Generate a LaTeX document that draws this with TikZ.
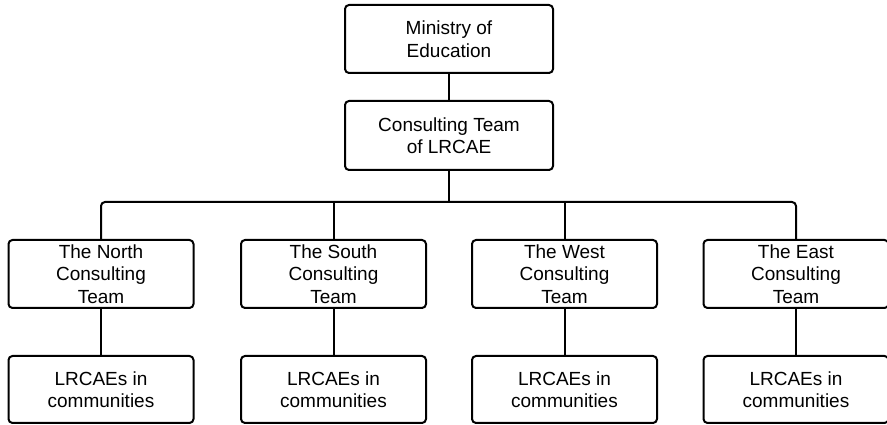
\documentclass[tikz,border=0pt]{standalone}
\usepackage{fontspec}
\setmainfont{Liberation Sans}
\begin{document}
\begin{tikzpicture}[x=1pt,y=1pt,
  orgbox/.style={draw, line width=2pt, rounded corners=4pt, minimum width=185pt, minimum height=68pt,
    inner sep=0pt, align=center, font=\fontsize{19}{22.5}\selectfont},
  topbox/.style={orgbox, minimum width=208pt},
  link/.style={line width=2pt, rounded corners=4pt}]
\useasboundingbox (0,0) rectangle (887,425);
\node[topbox] (moe) at (449,386) {Ministry of\\Education};
\node[topbox, minimum height=69pt] (ct) at (449,289.5) {Consulting Team\\of LRCAE};
\node[orgbox] (north) at (101,151) {The North\\Consulting\\Team};
\node[orgbox] (south) at (333.5,151) {The South\\Consulting\\Team};
\node[orgbox] (west) at (564.5,151) {The West\\Consulting\\Team};
\node[orgbox] (east) at (796,151) {The East\\Consulting\\Team};
\node[orgbox, minimum height=67pt] (cn) at (101,35.5) {LRCAEs in\\communities};
\node[orgbox, minimum height=67pt] (cs) at (333.5,35.5) {LRCAEs in\\communities};
\node[orgbox, minimum height=67pt] (cw) at (564.5,35.5) {LRCAEs in\\communities};
\node[orgbox, minimum height=67pt] (ce) at (796,35.5) {LRCAEs in\\communities};
\coordinate (bus) at (449,223);
\draw[link] (moe.south) -- (ct.north);
\draw[link] (ct.south) -- (bus);
\draw[link] (north.north) |- (bus) -| (east.north);
\draw[link] (south.north) -- (south.north |- bus);
\draw[link] (west.north) -- (west.north |- bus);
\draw[link] (north.south) -- (cn.north);
\draw[link] (south.south) -- (cs.north);
\draw[link] (west.south) -- (cw.north);
\draw[link] (east.south) -- (ce.north);
\end{tikzpicture}
\end{document}
